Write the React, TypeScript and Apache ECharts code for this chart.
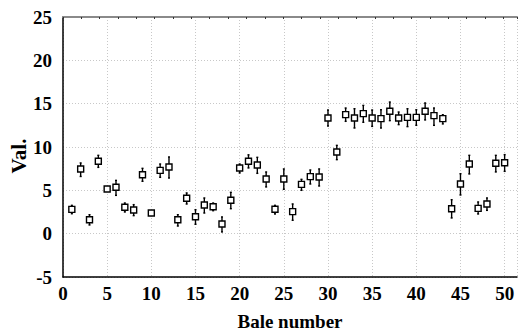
import React, { useEffect, useRef } from "react";
import * as echarts from "echarts";

const bales = [1,2,3,4,5,6,7,8,9,10,11,12,13,14,15,16,17,18,19,20,21,22,23,24,25,26,27,28,29,30,31,32,33,34,35,36,37,38,39,40,41,42,43,44,45,46,47,48,49,50];
const means = [2.8,7.46,1.6,8.35,5.15,5.35,3.04,2.73,6.8,2.38,7.3,7.69,1.6,4.08,1.96,3.3,3.1,1.12,3.85,7.58,8.35,7.92,6.31,2.81,6.31,2.54,5.69,6.58,6.54,13.35,9.42,13.73,13.35,13.85,13.35,13.27,14.12,13.35,13.42,13.42,14.12,13.62,13.27,2.88,5.73,8.04,2.92,3.42,8.12,8.19];
const lows = [2.3,6.6,1.0,7.65,4.9,4.42,2.5,2.08,6.04,2.1,6.5,6.42,0.88,3.42,1.08,2.38,2.65,0.2,2.88,7.0,7.58,6.96,5.39,2.27,5.12,1.54,5.0,5.73,5.5,12.42,8.54,12.96,12.19,12.85,12.38,12.19,13.04,12.58,12.35,12.5,13.12,12.5,12.66,1.81,4.46,6.89,2.27,2.69,7.12,7.19];
const highs = [3.27,8.16,2.19,9.04,5.4,6.15,3.54,3.35,7.54,2.6,8.04,8.85,2.19,4.7,2.77,4.12,3.54,1.93,4.77,8.04,9.1,8.81,7.12,3.27,7.47,3.43,6.27,7.35,7.47,14.27,10.19,14.5,14.42,14.8,14.27,14.3,15.19,14.04,14.42,14.3,15.08,14.5,13.73,3.92,6.92,9.04,3.66,4.12,9.04,9.12];
const yTicks = [-5, 0, 5, 10, 15, 20, 25];
const xTicks = [0, 5, 10, 15, 20, 25, 30, 35, 40, 45, 50];
const yTitle = "Val.";
const xTitle = "Bale number";

const FONT = "Liberation Serif";

export default function App() {
  const ref = useRef<HTMLDivElement>(null);
  useEffect(() => {
    if (!ref.current) return;
    const chart = echarts.init(ref.current, null, { renderer: "svg" });
    const whiskerData = bales.map((b, i) => [b, lows[i], highs[i]]);
    const pointData = bales.map((b, i) => [b, means[i]]);
    const labelStyle = { fontFamily: FONT, fontWeight: "bold" as const, fontSize: 19, color: "#000" };
    chart.setOption({
      animation: false,
      backgroundColor: "#fff",
      textStyle: { fontFamily: FONT },
      grid: { left: 63, right: 1, top: 17, bottom: 56, outerBoundsMode: "none", containLabel: false },
      graphic: [
        {
          type: "text",
          x: 19,
          y: 156,
          rotation: Math.PI / 2,
          style: {
            text: yTitle,
            fontFamily: FONT,
            fontWeight: "bold",
            fontSize: 21,
            fill: "#000",
            align: "center",
            verticalAlign: "middle",
          },
        },
      ],
      xAxis: [
        {
          type: "value",
          min: xTicks[0],
          max: 51.4,
          interval: 5,
          name: xTitle,
          nameLocation: "middle",
          nameGap: 35,
          nameTextStyle: labelStyle,
          axisLine: { show: true, onZero: false, lineStyle: { color: "#000", width: 1.5 } },
          axisTick: { show: false },
          axisLabel: {
            ...labelStyle,
            margin: 7,
            showMaxLabel: false,
            formatter: (v: number) => (xTicks.includes(v) ? String(v) : ""),
          },
          splitLine: { show: true, lineStyle: { color: "#c8c8c8", type: [1, 2], width: 1 } },
        },
        {
          type: "value",
          position: "top",
          min: 0,
          max: 24.75,
          interval: 1,
          axisLine: { show: true, onZero: false, lineStyle: { color: "#8a8a8a", width: 2 } },
          axisTick: { show: true, inside: true, length: 2, lineStyle: { color: "#333", width: 1 } },
          axisLabel: { show: false },
          splitLine: { show: false },
        },
      ],
      yAxis: {
        type: "value",
        min: -5,
        max: 25,
        interval: 5,
        axisLine: { show: true, onZero: false, lineStyle: { color: "#000", width: 1.5 } },
        axisTick: { show: false },
        axisLabel: {
          ...labelStyle,
          margin: 11,
          formatter: (v: number) => (yTicks.includes(v) ? String(v) : ""),
        },
        splitLine: { show: true, lineStyle: { color: "#c8c8c8", type: [1, 2], width: 1 } },
      },
      series: [
        {
          type: "custom",
          xAxisIndex: 0,
          data: whiskerData,
          encode: { x: 0, y: [1, 2] },
          z: 2,
          renderItem: (params: any, api: any) => {
            const x = api.value(0);
            const lo = api.coord([x, api.value(1)]);
            const hi = api.coord([x, api.value(2)]);
            const st = { stroke: "#000", lineWidth: 1.4 };
            return {
              type: "group",
              children: [
                { type: "line", shape: { x1: lo[0], y1: lo[1], x2: hi[0], y2: hi[1] }, style: st },
                { type: "line", shape: { x1: lo[0] - 1, y1: lo[1], x2: lo[0] + 1, y2: lo[1] }, style: st },
                { type: "line", shape: { x1: hi[0] - 1, y1: hi[1], x2: hi[0] + 1, y2: hi[1] }, style: st },
              ],
            };
          },
        },
        {
          type: "scatter",
          xAxisIndex: 0,
          data: pointData,
          symbol: "rect",
          symbolSize: [6, 6],
          z: 3,
          itemStyle: { color: "#fff", borderColor: "#000", borderWidth: 1.4, opacity: 1 },
        },
      ],
    });
    return () => chart.dispose();
  }, []);
  return <div ref={ref} style={{ position: "absolute", left: 0, top: 0, width: 518, height: 333 }} />;
}
